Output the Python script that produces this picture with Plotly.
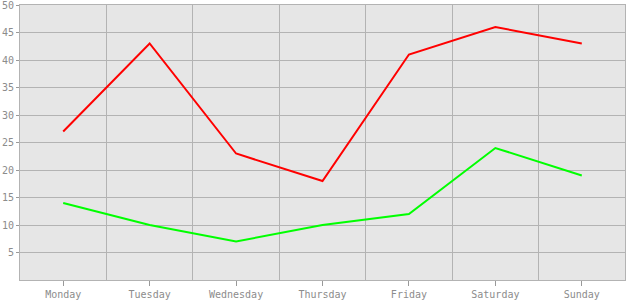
import plotly.graph_objects as go

days = ["Monday", "Tuesday", "Wednesday", "Thursday", "Friday", "Saturday", "Sunday"]
red_values = [27, 43, 23, 18, 41, 46, 43]
green_values = [14, 10, 7, 10, 12, 24, 19]
y_ticks = [5, 10, 15, 20, 25, 30, 35, 40, 45, 50]

xpos = list(range(len(days)))
boundaries = [i + 0.5 for i in range(len(days) - 1)]

fig = go.Figure()
fig.add_trace(go.Scatter(x=xpos, y=red_values, mode="lines",
                         line=dict(color="#ff0000", width=2), showlegend=False))
fig.add_trace(go.Scatter(x=xpos, y=green_values, mode="lines",
                         line=dict(color="#00ff00", width=2), showlegend=False))
# invisible trace to drive the boundary grid axis
fig.add_trace(go.Scatter(x=[boundaries[0]], y=[None], xaxis="x2", showlegend=False,
                         hoverinfo="skip"))

font = dict(family="DejaVu Sans Mono", size=10, color="#8c8c8c")
fig.update_layout(
    width=630, height=300,
    margin=dict(l=20, r=5, t=5, b=20),
    paper_bgcolor="white",
    plot_bgcolor="#e6e6e6",
    font=font,
    xaxis=dict(range=[-0.5, 6.5], tickvals=xpos, ticktext=days,
               showgrid=False, zeroline=False, automargin=False,
               ticklabeloverflow="allow",
               showline=True, linecolor="#b3b3b3", linewidth=1, mirror=True,
               ticks="outside", ticklen=5, tickcolor="#999999", tickfont=font),
    xaxis2=dict(range=[-0.5, 6.5], overlaying="x", tickvals=boundaries,
                showticklabels=False, showgrid=True, gridcolor="#b3b3b3",
                gridwidth=1, zeroline=False, ticks="", layer="below traces",
                automargin=False),
    yaxis=dict(range=[0, 50], tickvals=y_ticks, showgrid=True,
               gridcolor="#b3b3b3", gridwidth=1, zeroline=False, automargin=False,
               ticklabeloverflow="allow",
               showline=True, linecolor="#b3b3b3", linewidth=1, mirror=True,
               ticks="outside", ticklen=3, tickcolor="#999999", tickfont=font),
)
fig.write_html("out.html")
